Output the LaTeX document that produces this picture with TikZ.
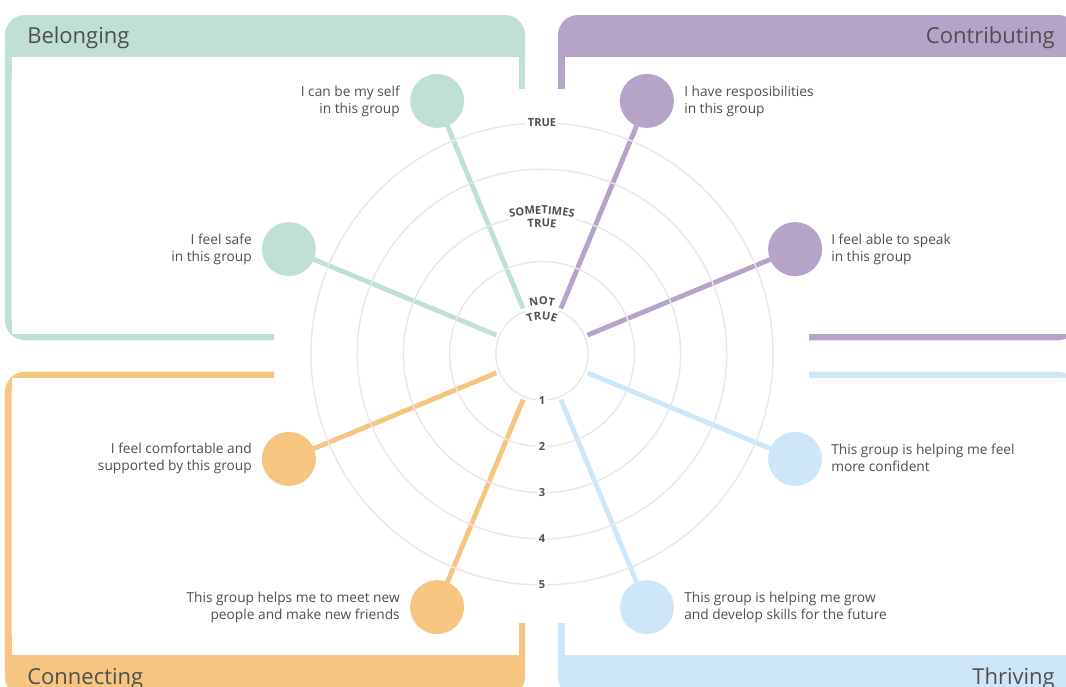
\documentclass[tikz,border=0pt]{standalone}
\usepackage{fontspec}
\setmainfont{Open Sans}
\usetikzlibrary{decorations.text}

\definecolor{belongC}{HTML}{C0E0D6}
\definecolor{contribC}{HTML}{B5A3C8}
\definecolor{connectC}{HTML}{F6C680}
\definecolor{thriveC}{HTML}{CEE7F8}
\definecolor{inkC}{HTML}{4F4F4F}
\definecolor{ringC}{HTML}{E8E8E8}

\tikzset{
  border/.style={line width=4.9pt, rounded corners=12.6pt},
  stub/.style={line width=4.9pt},
  headfill/.style={rounded corners=15pt},
  headtext/.style={font=\fontsize{16.5}{20}\selectfont, text=inkC, inner sep=0},
  lab/.style={font=\fontsize{10.3}{12.75}\selectfont, text=inkC, inner sep=0},
  dot/.style={circle, minimum size=40.5pt, inner sep=0, draw=none},
  spoke/.style={line width=3.6pt},
  ring/.style={draw=ringC, line width=1.1pt},
  scalelab/.style={font=\bfseries\fontsize{8.3}{9}\selectfont, text=inkC, fill=white, inner sep=1.2pt},
}

\begin{document}
\begin{tikzpicture}[x=0.75pt, y=-0.75pt]
\useasboundingbox (0,0) rectangle (1066,686);
\clip (0,0) rectangle (1066,686);

% ---- Belonging panel (top left)
\fill[belongC, headfill] (5,15) rectangle (525,80);
\draw[belongC, border] (274,337) -| (8.25,40);
\draw[belongC, stub] (521.75,40) -- (521.75,89);
\fill[white] (11.5,57) rectangle (518.5,333.75);

% ---- Contributing panel (top right)
\fill[contribC, headfill] (558,15) rectangle (1078,80);
\draw[contribC, border] (809,337) -| (1074.75,40);
\draw[contribC, stub] (561.25,40) -- (561.25,89);
\fill[white] (564.5,57) rectangle (1071.5,333.75);

% ---- Connecting panel (bottom left)
\fill[connectC, headfill] (5,632) rectangle (525,697);
\draw[connectC, border] (274,375) -| (8.25,672);
\draw[connectC, stub] (521.75,672) -- (521.75,623);
\fill[white] (11.5,378.25) rectangle (518.5,655);

% ---- Thriving panel (bottom right)
\fill[thriveC, headfill] (558,632) rectangle (1078,697);
\draw[thriveC, border] (809,375) -| (1074.75,672);
\draw[thriveC, stub] (561.25,672) -- (561.25,623);
\fill[white] (564.5,378.25) rectangle (1071.5,655);

% ---- headings
\node[headtext, anchor=west] (hBelong) at (27,38) {Belonging};
\node[headtext, anchor=east] (hContrib) at (1055,38) {Contributing};
\node[headtext, anchor=west] (hConnect) at (27,679) {Connecting};
\node[headtext, anchor=east] (hThrive) at (1055,679) {Thriving};

% ---- hub and statement dots
\node[circle, minimum size=73.5pt, inner sep=0] (hub) at (542,354) {};
\node[dot] (b1) at (437.1,100.9) {};
\node[dot] (b2) at (288.9,249.1) {};
\node[dot] (c1) at (646.9,100.9) {};
\node[dot] (c2) at (795.1,249.1) {};
\node[dot] (t1) at (795.1,458.9) {};
\node[dot] (t2) at (646.9,607.1) {};
\node[dot] (n1) at (288.9,458.9) {};
\node[dot] (n2) at (437.1,607.1) {};

% ---- spokes
\draw[spoke, belongC] (hub) -- (b1.center);
\draw[spoke, belongC] (hub) -- (b2.center);
\draw[spoke, contribC] (hub) -- (c1.center);
\draw[spoke, contribC] (hub) -- (c2.center);
\draw[spoke, thriveC] (hub) -- (t1.center);
\draw[spoke, thriveC] (hub) -- (t2.center);
\draw[spoke, connectC] (hub) -- (n1.center);
\draw[spoke, connectC] (hub) -- (n2.center);

% ---- rating rings
\foreach \r in {46.2,92.4,138.6,184.8,231}
  \draw[ring] (hub.center) circle[radius=\r];

% ---- dots on top of spokes
\fill[belongC] (b1) circle[radius=27];
\fill[belongC] (b2) circle[radius=27];
\fill[contribC] (c1) circle[radius=27];
\fill[contribC] (c2) circle[radius=27];
\fill[thriveC] (t1) circle[radius=27];
\fill[thriveC] (t2) circle[radius=27];
\fill[connectC] (n1) circle[radius=27];
\fill[connectC] (n2) circle[radius=27];

% ---- scale words at the top of the rings
\node[scalelab] (sTrue) at (542,123) {TRUE};
\draw[white, line width=4pt] ([shift={(104:103.95pt)}]hub.center) arc[start angle=104, end angle=76, radius=103.95pt];
\draw[white, line width=4pt] ([shift={(111:34.65pt)}]hub.center) arc[start angle=111, end angle=69, radius=34.65pt];
\path[decorate, decoration={text along path, text align=center, text color=inkC,
  text={|\bfseries\fontsize{8.3}{9}\selectfont|SOMETIMES}}]
  ([shift={(115:105pt)}]hub.center) arc[start angle=115, end angle=65, radius=105pt];
\path[decorate, decoration={text along path, text align=center, text color=inkC,
  text={|\bfseries\fontsize{8.3}{9}\selectfont|TRUE}}]
  ([shift={(115:95.25pt)}]hub.center) arc[start angle=115, end angle=65, radius=95.25pt];
\path[decorate, decoration={text along path, text align=center, text color=inkC,
  text={|\bfseries\fontsize{8.3}{9}\selectfont|NOT}}]
  ([shift={(135:36.75pt)}]hub.center) arc[start angle=135, end angle=45, radius=36.75pt];
\path[decorate, decoration={text along path, text align=center, text color=inkC,
  text={|\bfseries\fontsize{8.3}{9}\selectfont|TRUE}}]
  ([shift={(160:25.5pt)}]hub.center) arc[start angle=160, end angle=20, radius=25.5pt];

% ---- numbers down the rings
\node[scalelab] (s1) at (542,400.2) {1};
\node[scalelab] (s2) at (542,446.4) {2};
\node[scalelab] (s3) at (542,492.6) {3};
\node[scalelab] (s4) at (542,538.8) {4};
\node[scalelab] (s5) at (542,585) {5};

% ---- statements
\node[lab, anchor=east, align=right] (tb1) at (400,101.5) {I can be my self\\in this group};
\node[lab, anchor=east, align=right] (tb2) at (252,249.5) {I feel safe\\in this group};
\node[lab, anchor=west, align=left] (tc1) at (684,101.5) {I have resposibilities\\in this group};
\node[lab, anchor=west, align=left] (tc2) at (831,249.5) {I feel able to speak\\in this group};
\node[lab, anchor=east, align=right] (tn1) at (252,458) {I feel comfortable and\\supported by this group};
\node[lab, anchor=east, align=right] (tn2) at (400,607.5) {This group helps me to meet new\\people and make new friends};
\node[lab, anchor=west, align=left] (tt1) at (831,458) {This group is helping me feel\\more confident};
\node[lab, anchor=west, align=left] (tt2) at (684,607.5) {This group is helping me grow\\and develop skills for the future};
\end{tikzpicture}
\end{document}
